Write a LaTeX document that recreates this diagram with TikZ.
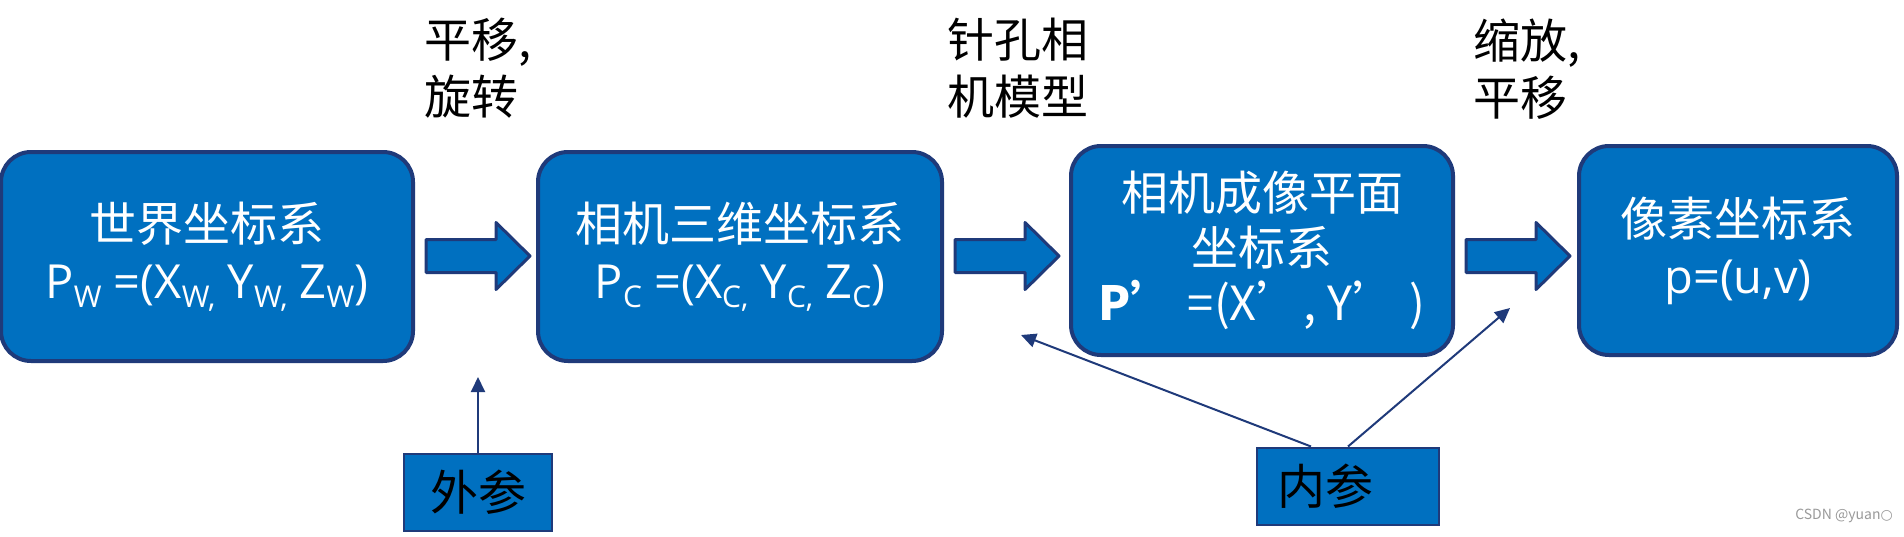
\documentclass[tikz,border=0pt]{standalone}
\usepackage{fontspec}
\setmainfont{Noto Sans CJK SC}
\newfontfamily\symfont{DejaVu Sans}
\newfontfamily\latinfont{Open Sans}
\usetikzlibrary{arrows.meta}
\definecolor{cbFill}{HTML}{0070C0}
\definecolor{cbEdge}{HTML}{1F3A7A}
\definecolor{cbMark}{HTML}{9A9A9A}
\newcommand{\lowsub}[1]{\raisebox{-0.35ex}{\fontsize{15}{15}\selectfont #1}}

\begin{document}
\begin{tikzpicture}[
    x=0.5pt, y=-0.5pt,
    cbox/.style={draw=cbEdge, line width=2pt, rounded corners=15pt, fill=cbFill, text=white, align=center, inner sep=0pt, minimum height=104.5pt, font=\fontsize{23.5}{28.5}\selectfont},
    pbox/.style={draw=cbEdge, line width=1pt, fill=cbFill, text=black, inner sep=0pt, minimum height=38.5pt, font=\fontsize{24}{28}\selectfont},
    note/.style={anchor=north west, inner sep=0pt, align=left, font=\fontsize{23.5}{28.5}\selectfont},
    blockarr/.style={draw=cbEdge, line width=1.5pt, line join=round, fill=cbFill},
    thinarr/.style={-{Triangle[length=7.5pt, width=7pt]}, cbEdge, line width=1pt}
]
    \fill[white] (0,0) rectangle (1904,536);
    \useasboundingbox (0,0) rectangle (1904,536);

    % coordinate systems
    \node[cbox, minimum width=206pt] (world) at (207,256.5) {世界坐标系\\{\latinfont P\lowsub{W} =(X\lowsub{W,} Y\lowsub{W,} Z\lowsub{W})}};
    \node[cbox, minimum width=202pt] (camera) at (740,256.5) {相机三维坐标系\\{\latinfont P\lowsub{C} =(X\lowsub{C,} Y\lowsub{C,} Z\lowsub{C})}};
    \node[cbox, minimum width=191pt, font=\fontsize{23.5}{27.5}\selectfont] (image) at (1262,250.5) {相机成像平面\\坐标系\\{\bfseries P’} =(X’, Y’ )};
    \node[cbox, minimum width=159pt] (pixel) at (1738,250.5) {像素坐标系\\{\latinfont p=(u,v)}};

    % block arrows between the boxes
    \foreach \a in {world,camera,image}
        \draw[blockarr] (\a.east |- 0,256) ++(11,-16.5) -- ++(70,0) -- ++(0,-17) -- ++(34,33.5) -- ++(-34,33.5) -- ++(0,-17) -- ++(-70,0) -- cycle;

    % transformation labels
    \node[note] (rigid) at (424,18) {平移,\\旋转};
    \node[note] (pinhole) at (947,18) {针孔相\\机模型};
    \node[note] (affine) at (1473,18) {缩放,\\平移};

    % parameters
    \node[pbox, minimum width=74pt] (outer) at (478,492.5) {外参};
    \node[pbox, minimum width=91pt, anchor=west, text width=71pt, inner xsep=10pt, align=left] (inner) at (1256,486) {内参};
    \coordinate (outTip) at (478,377);
    \coordinate (inTipA) at (1021,335);
    \coordinate (inTipB) at (1510,308);

    \draw[thinarr] (outer.north) -- (outTip);
    \draw[thinarr] ([xshift=-18.5pt]inner.north) -- (inTipA);
    \draw[thinarr] (inner.north) -- (inTipB);

    \node[cbMark, font=\fontsize{7}{8}\selectfont] (mark) at (1844,516) {CSDN @yuan{\symfont ○}};
\end{tikzpicture}
\end{document}
